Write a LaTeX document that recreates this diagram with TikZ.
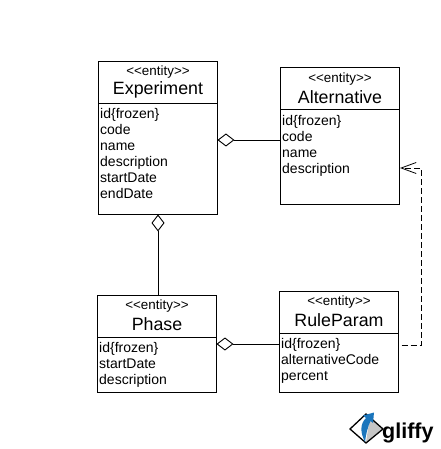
\documentclass[tikz,border=0pt]{standalone}
\usepackage{fontspec}
\setmainfont{Liberation Sans}
\usetikzlibrary{arrows.meta}
\definecolor{gliffyblue}{RGB}{27,117,188}
\newcommand{\entitytag}{<{}<entity>{}>}
\tikzset{
	entitybox/.style={draw,line width=0.9pt,rectangle,inner sep=0pt},
	stereotype/.style={font=\fontsize{13.4}{14}\selectfont,inner sep=0pt},
	entityname/.style={font=\fontsize{17.8}{20}\selectfont,inner sep=0pt},
	attrlist/.style={font=\fontsize{14}{16}\selectfont,align=left,anchor=north west,inner sep=0pt},
	aggregation/.style={line width=0.9pt,{Diamond[open,length=17pt,width=13pt,line width=0.9pt]}-},
	dependency/.style={line width=0.8pt,dashed,dash pattern=on 6pt off 3pt,-{Straight Barb[length=15pt,width=11pt,line width=0.8pt]}}
}
\begin{document}
\begin{tikzpicture}[x=1pt,y=-1pt]
	\useasboundingbox (0,0) rectangle (440,449);

	% experiment
	\node[entitybox,minimum width=119pt,minimum height=153pt] (experiment) at (157.5,137.5) {};
	\draw[line width=0.9pt] (98,103) -- (217,103);
	\node[stereotype] (experimentstereo) at (158,72) {\entitytag};
	\node[entityname] (experimentname) at (158,90) {Experiment};
	\node[attrlist] (experimentattrs) at (100,107.7) {id\{frozen\}\\code\\name\\description\\startDate\\endDate};

	% alternative
	\node[entitybox,minimum width=119pt,minimum height=137pt] (alternative) at (339.5,135.5) {};
	\draw[line width=0.9pt] (280,109) -- (399,109);
	\node[stereotype] (alternativestereo) at (340,79) {\entitytag};
	\node[entityname] (alternativename) at (340,97) {Alternative};
	\node[attrlist] (alternativeattrs) at (282,114.7) {id\{frozen\}\\code\\name\\description};

	% phase
	\node[entitybox,minimum width=119pt,minimum height=97pt] (phase) at (156.5,343.5) {};
	\draw[line width=0.9pt] (97,337) -- (216,337);
	\node[stereotype] (phasestereo) at (157,306) {\entitytag};
	\node[entityname] (phasename) at (157,324) {Phase};
	\node[attrlist] (phaseattrs) at (99,341.7) {id\{frozen\}\\startDate\\description};

	% ruleparam
	\node[entitybox,minimum width=119pt,minimum height=101pt] (ruleparam) at (338.5,341.5) {};
	\draw[line width=0.9pt] (279,333) -- (398,333);
	\node[stereotype] (ruleparamstereo) at (339,302) {\entitytag};
	\node[entityname] (ruleparamname) at (339,320) {RuleParam};
	\node[attrlist] (ruleparamattrs) at (281,337.7) {id\{frozen\}\\alternativeCode\\percent};

	% connectors
	\coordinate (depstart) at (401.5,345);
	\coordinate (depbend) at (421,168);
	\coordinate (depend) at (400,168);
	\draw[aggregation] ([yshift=-2.5pt]experiment.east) -- ([yshift=-4.5pt]alternative.west);
	\draw[aggregation] ([xshift=0.5pt]experiment.south) -- ([xshift=1.5pt]phase.north);
	\draw[aggregation] ([yshift=-0.5pt]phase.east) -- ([yshift=-2.5pt]ruleparam.west);
	\draw[dependency] (depstart) -| (depbend) -- (depend);

	% logo
	\fill[gray!45] (370,417) -- (382,429) -- (366,442) -- cycle;
	\draw[line width=1.3pt,line join=miter] (350,429) -- (366,414) -- (383,429) -- (366,443) -- cycle;
	\fill[gliffyblue] (365,442) .. controls (360,432) and (360,424) .. (366,418) -- (363,415.5) -- (374,412.5) -- (373,423) -- (370.5,421) .. controls (368,426) and (366,434) .. (365,442) -- cycle;
	\node[font=\fontsize{21.5}{24}\bfseries\selectfont,inner sep=0pt,anchor=base west] (logotext) at (382,438) {gliffy};
\end{tikzpicture}
\end{document}
